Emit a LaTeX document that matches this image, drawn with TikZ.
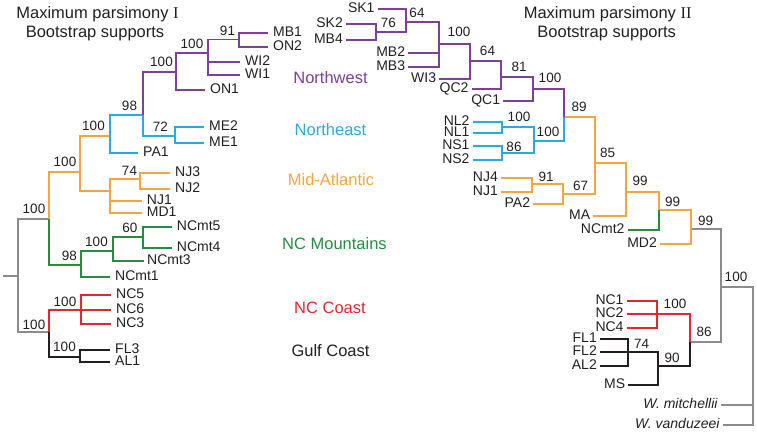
\documentclass[tikz,border=0pt]{standalone}
\usepackage{fontspec}
\setmainfont{Liberation Sans}
\newfontfamily\romanfont{Liberation Serif}
\definecolor{pu}{HTML}{7D3F98}
\definecolor{cy}{HTML}{29ABE2}
\definecolor{og}{HTML}{F7A541}
\definecolor{gr}{HTML}{268C3F}
\definecolor{rd}{HTML}{E4262D}
\definecolor{bk}{HTML}{231F20}
\definecolor{gy}{HTML}{8C8C8C}
\begin{document}
\begin{tikzpicture}[x=1pt,y=-1pt,
  edge/.style={line width=1.8pt},
  lf/.style={inner ysep=0pt, text height=0.72em, text depth=0pt, font=\fontsize{14}{16}\selectfont, text=bk},
  ll/.style={lf, anchor=west, inner xsep=5pt},
  rl/.style={lf, anchor=east, inner xsep=3pt},
  sup/.style={inner sep=0pt, text height=0.72em, text depth=0pt, font=\fontsize{13.5}{16}\selectfont, text=bk},
  ttl/.style={inner sep=0pt, text height=0.72em, text depth=0pt, font=\fontsize{16.5}{19}\selectfont, text=bk}
]
\useasboundingbox (0,0) rectangle (757,431);

% ---------- titles ----------
\node[ttl] (t1a) at (97.5,14.5) {Maximum parsimony {\romanfont I}};
\node[ttl] (t1b) at (95,34.3) {Bootstrap supports};
\node[ttl] (t2a) at (607.7,15) {Maximum parsimony {\romanfont II}};
\node[ttl] (t2b) at (606.7,34.3) {Bootstrap supports};

% ---------- region labels ----------
\node[ttl, text=pu] (rNW) at (330.5,80) {Northwest};
\node[ttl, text=cy] (rNE) at (330.5,131.7) {Northeast};
\node[ttl, text=og] (rMA) at (331,181.7) {Mid-Atlantic};
\node[ttl, text=gr] (rNCM) at (334.5,245.7) {NC Mountains};
\node[ttl, text=rd] (rNCC) at (330,310) {NC Coast};
\node[ttl, text=bk] (rGC) at (330.5,353) {Gulf Coast};

% ================= LEFT TREE =================
\coordinate (r0) at (3,276);
\coordinate (R0) at (18,276);
\coordinate (A1) at (49,219);
\coordinate (A2) at (49,332.3);
\coordinate (B1) at (80,171.7);
\coordinate (G1) at (81,265.3);
\coordinate (C1) at (110,136);
\coordinate (M1) at (110,190.7);
\coordinate (D1) at (143,115);
\coordinate (E1) at (176,71.7);
\coordinate (F1) at (175,136);
\coordinate (H1) at (208,53.3);
\coordinate (I1) at (239,39.5);
\coordinate (N1) at (140,179.3);
\coordinate (G2) at (113,251);
\coordinate (G3) at (143,236.7);
\coordinate (K1) at (81,310);
\coordinate (L1) at (80,356.7);

\node[ll] (lMB1) at (268,32.7) {MB1};
\node[ll] (lON2) at (268,46.7) {ON2};
\node[ll] (lWI2) at (240,61.7) {WI2};
\node[ll] (lWI1) at (240,75) {WI1};
\node[ll] (lON1) at (205,90) {ON1};
\node[ll] (lME2) at (204,127) {ME2};
\node[ll] (lME1) at (204,143) {ME1};
\node[ll] (lPA1) at (138,153.3) {PA1};
\node[ll] (lNJ3) at (170,172.7) {NJ3};
\node[ll] (lNJ2) at (170,189.3) {NJ2};
\node[ll] (lNJ1) at (141.7,200.7) {NJ1};
\node[ll] (lMD1) at (141.7,213.3) {MD1};
\node[ll] (lNCmt5) at (171.7,227.3) {NCmt5};
\node[ll] (lNCmt4) at (171.7,247.7) {NCmt4};
\node[ll, inner xsep=3pt] (lNCmt3) at (144,260.7) {NCmt3};
\node[ll] (lNCmt1) at (110,276.7) {NCmt1};
\node[ll] (lNC5) at (111,295) {NC5};
\node[ll] (lNC6) at (111,310) {NC6};
\node[ll] (lNC3) at (111,324.3) {NC3};
\node[ll] (lFL3) at (110,350) {FL3};
\node[ll] (lAL1) at (110,362.3) {AL1};

\draw[edge,gy] (r0) -- (R0);
\draw[edge,gy] (R0) |- (A1);
\draw[edge,gy] (R0) |- (A2);
\draw[edge,og] (A1) |- (B1);
\draw[edge,gr] (A1) |- (G1);
\draw[edge,og] (B1) |- (C1);
\draw[edge,og] (B1) |- (M1);
\draw[edge,cy] (C1) |- (D1);
\draw[edge,cy] (C1) |- (lPA1);
\draw[edge,pu] (D1) |- (E1);
\draw[edge,cy] (D1) |- (F1);
\draw[edge,pu] (E1) |- (H1);
\draw[edge,pu] (E1) |- (lON1);
\draw[edge,pu] (H1) |- (I1);
\draw[edge,pu] (H1) |- (lWI2);
\draw[edge,pu] (H1) |- (lWI1);
\draw[edge,pu] (I1) |- (lMB1);
\draw[edge,pu] (I1) |- (lON2);
\draw[edge,cy] (F1) |- (lME2);
\draw[edge,cy] (F1) |- (lME1);
\draw[edge,og] (M1) |- (N1);
\draw[edge,og] (M1) |- (lNJ1);
\draw[edge,og] (M1) |- (lMD1);
\draw[edge,og] (N1) |- (lNJ3);
\draw[edge,og] (N1) |- (lNJ2);
\draw[edge,gr] (G1) |- (G2);
\draw[edge,gr] (G1) |- (lNCmt1);
\draw[edge,gr] (G2) |- (G3);
\draw[edge,gr] (G2) |- (lNCmt3);
\draw[edge,gr] (G3) |- (lNCmt5);
\draw[edge,gr] (G3) |- (lNCmt4);
\draw[edge,rd] (A2) |- (K1);
\draw[edge,bk] (A2) |- (L1);
\draw[edge,rd] (K1) |- (lNC5);
\draw[edge,rd] (K1) |- (lNC6);
\draw[edge,rd] (K1) |- (lNC3);
\draw[edge,bk] (L1) |- (lFL3);
\draw[edge,bk] (L1) |- (lAL1);

\node[sup] (sA1) at (34,210) {100};
\node[sup] (sA2) at (34,325.7) {100};
\node[sup] (sB1) at (65,162.7) {100};
\node[sup] (sG1) at (69.5,256.7) {98};
\node[sup] (sC1) at (93.5,127) {100};
\node[sup] (sD1) at (129.5,107) {98};
\node[sup] (sE1) at (161.5,62.7) {100};
\node[sup] (sF1) at (160.5,128) {72};
\node[sup] (sH1) at (192,45) {100};
\node[sup] (sI1) at (227.5,32) {91};
\node[sup] (sN1) at (129.5,172) {74};
\node[sup] (sG2) at (96.5,243.3) {100};
\node[sup] (sG3) at (130,229.3) {60};
\node[sup] (sK1) at (65,302.7) {100};
\node[sup] (sL1) at (64.5,348.3) {100};

% ================= RIGHT TREE =================
\coordinate (PR) at (753.3,405);
\coordinate (PJ) at (720.7,286.7);
\coordinate (PI) at (691,229);
\coordinate (PH) at (659,210);
\coordinate (PG) at (626,191.7);
\coordinate (PF) at (595,163.3);
\coordinate (PE) at (564,117.3);
\coordinate (PD) at (533,89);
\coordinate (PC) at (501,77.3);
\coordinate (PB) at (470,61);
\coordinate (PA) at (439.3,44);
\coordinate (P64) at (406,21.7);
\coordinate (P76) at (376,31.7);
\coordinate (PN) at (534.3,141);
\coordinate (PNL) at (501.7,126.7);
\coordinate (PNS) at (501.7,153);
\coordinate (P67) at (562.7,194.3);
\coordinate (P91) at (532.3,184.3);
\coordinate (PK) at (690,342.3);
\coordinate (PNC) at (656.7,314);
\coordinate (P90) at (658.3,366);
\coordinate (P74) at (628.3,351.7);

\node[rl] (rSK1) at (377.7,9.3) {SK1};
\node[rl] (rSK2) at (346,24) {SK2};
\node[rl] (rMB4) at (346,40) {MB4};
\node[rl] (rMB2) at (408.3,53.3) {MB2};
\node[rl] (rMB3) at (408.3,66.7) {MB3};
\node[rl] (rWI3) at (439.3,79.3) {WI3};
\node[rl] (rQC2) at (471.7,89.3) {QC2};
\node[rl] (rQC1) at (503.3,100.7) {QC1};
\node[rl] (rNL2) at (472.7,121.7) {NL2};
\node[rl] (rNL1) at (472.7,133.3) {NL1};
\node[rl] (rNS1) at (472.7,146) {NS1};
\node[rl] (rNS2) at (472.7,160) {NS2};
\node[rl] (rNJ4) at (501,177.7) {NJ4};
\node[rl] (rNJ1) at (501,192.3) {NJ1};
\node[rl] (rPA2) at (533.3,204) {PA2};
\node[rl] (rMA) at (593.3,216) {MA};
\node[rl] (rNCmt2) at (627.7,230) {NCmt2};
\node[rl] (rMD2) at (660,244) {MD2};
\node[rl] (rNC1) at (626.7,300.7) {NC1};
\node[rl] (rNC2) at (626.7,314) {NC2};
\node[rl] (rNC4) at (626.7,327.7) {NC4};
\node[rl] (rFL1) at (600,339) {FL1};
\node[rl] (rFL2) at (600,351.7) {FL2};
\node[rl] (rAL2) at (600,366) {AL2};
\node[rl] (rMS) at (628.3,385) {MS};
\node[rl] (rWm) at (720.7,405) {\itshape W. mitchellii};
\node[rl] (rWv) at (722.7,425) {\itshape W. vanduzeei};

\draw[edge,gy] (PR) |- (PJ);
\draw[edge,gy] (PR) |- (rWm);
\draw[edge,gy] (PR) |- (rWv);
\draw[edge,gy] (PJ) |- (PI);
\draw[edge,gy] (PJ) |- (PK);
\draw[edge,og] (PI) |- (PH);
\draw[edge,og] (PI) |- (rMD2);
\draw[edge,og] (PH) |- (PG);
\draw[edge,gr] (PH) |- (rNCmt2);
\draw[edge,og] (PG) |- (PF);
\draw[edge,og] (PG) |- (rMA);
\draw[edge,og] (PF) |- (PE);
\draw[edge,og] (PF) |- (P67);
\draw[edge,og] (P67) |- (P91);
\draw[edge,og] (P67) |- (rPA2);
\draw[edge,og] (P91) |- (rNJ4);
\draw[edge,og] (P91) |- (rNJ1);
\draw[edge,pu] (PE) |- (PD);
\draw[edge,cy] (PE) |- (PN);
\draw[edge,cy] (PN) |- (PNL);
\draw[edge,cy] (PN) |- (PNS);
\draw[edge,cy] (PNL) |- (rNL2);
\draw[edge,cy] (PNL) |- (rNL1);
\draw[edge,cy] (PNS) |- (rNS1);
\draw[edge,cy] (PNS) |- (rNS2);
\draw[edge,pu] (PD) |- (PC);
\draw[edge,pu] (PD) |- (rQC1);
\draw[edge,pu] (PC) |- (PB);
\draw[edge,pu] (PC) |- (rQC2);
\draw[edge,pu] (PB) |- (PA);
\draw[edge,pu] (PB) |- (rWI3);
\draw[edge,pu] (PA) |- (P64);
\draw[edge,pu] (PA) |- (rMB2);
\draw[edge,pu] (PA) |- (rMB3);
\draw[edge,pu] (P64) |- (rSK1);
\draw[edge,pu] (P64) |- (P76);
\draw[edge,pu] (P76) |- (rSK2);
\draw[edge,pu] (P76) |- (rMB4);
\draw[edge,rd] (PK) |- (PNC);
\draw[edge,bk] (PK) |- (P90);
\draw[edge,rd] (PNC) |- (rNC1);
\draw[edge,rd] (PNC) |- (rNC2);
\draw[edge,rd] (PNC) |- (rNC4);
\draw[edge,bk] (P90) |- (P74);
\draw[edge,bk] (P90) |- (rMS);
\draw[edge,bk] (P74) |- (rFL1);
\draw[edge,bk] (P74) |- (rFL2);
\draw[edge,bk] (P74) |- (rAL2);

\node[sup] (s76) at (388.3,24) {76};
\node[sup] (s64a) at (417,14) {64};
\node[sup] (sPA) at (459,33.3) {100};
\node[sup] (sPB) at (487.5,51.7) {64};
\node[sup] (sPC) at (519,68.3) {81};
\node[sup] (sPD) at (550,79.3) {100};
\node[sup] (sPE) at (579,108.3) {89};
\node[sup] (sPNL) at (519,118.3) {100};
\node[sup] (sPNS) at (514,147.7) {86};
\node[sup] (sPN) at (548,132.7) {100};
\node[sup] (sPF) at (607.5,154) {85};
\node[sup] (sP91) at (546,177.7) {91};
\node[sup] (sP67) at (580.5,187.3) {67};
\node[sup] (sPG) at (640,182.3) {99};
\node[sup] (sPH) at (672.5,202.7) {99};
\node[sup] (sPI) at (705.5,221.7) {99};
\node[sup] (sPJ) at (736,278) {100};
\node[sup] (sPK) at (704,333.3) {86};
\node[sup] (sPNC) at (675,305) {100};
\node[sup] (sP90) at (672,359) {90};
\node[sup] (sP74) at (641.5,345) {74};
\end{tikzpicture}
\end{document}
